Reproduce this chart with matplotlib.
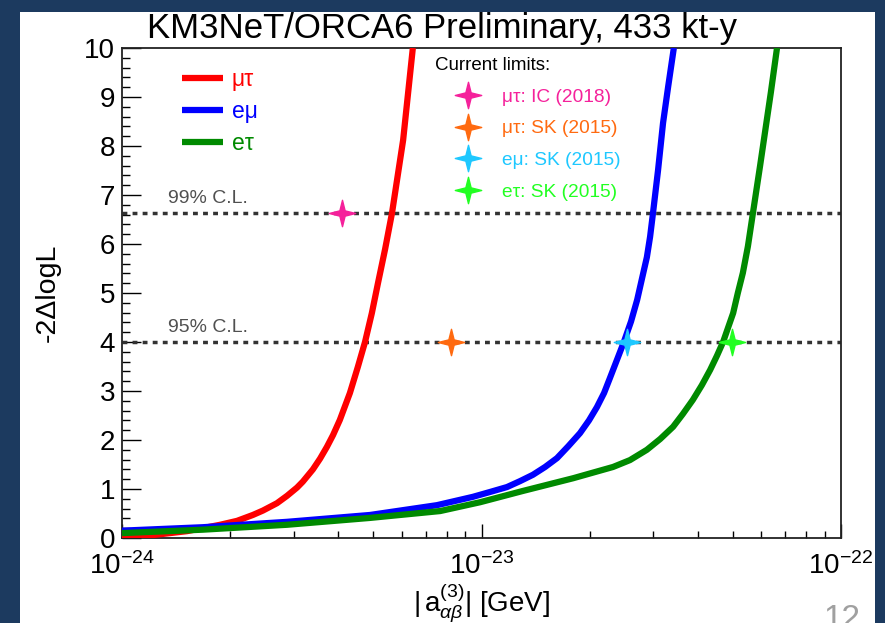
import matplotlib
matplotlib.use('Agg')
import matplotlib.pyplot as plt
from matplotlib.path import Path
from matplotlib.lines import Line2D
from matplotlib.patches import Rectangle
from matplotlib.ticker import MultipleLocator, LogLocator, NullFormatter
import numpy as np

plt.rcParams.update({
    'font.family': ['Liberation Sans', 'DejaVu Sans'],
    'mathtext.fontset': 'custom',
    'mathtext.rm': 'Liberation Sans',
    'mathtext.it': 'Liberation Sans:italic',
    'mathtext.bf': 'Liberation Sans:bold',
})

# --- data (log10 of |a| in GeV, -2 dlogL) ---
mutau_logx = [-24.000, -23.914, -23.819, -23.727, -23.680, -23.636, -23.608,
              -23.569, -23.541, -23.513, -23.497, -23.469, -23.449, -23.430,
              -23.413, -23.394, -23.366, -23.344, -23.324, -23.305, -23.288,
              -23.268, -23.249, -23.218, -23.191]
mutau_y = [0.0, 0.06, 0.14, 0.27, 0.35, 0.47, 0.56, 0.71, 0.86, 1.03, 1.15,
           1.40, 1.62, 1.86, 2.10, 2.41, 2.96, 3.49, 4.00, 4.59, 5.20, 5.90,
           6.63, 8.12, 10.0]

emu_logx = [-24.000, -23.775, -23.541, -23.310, -23.124, -23.024, -22.976,
            -22.929, -22.893, -22.857, -22.823, -22.790, -22.759, -22.726,
            -22.701, -22.679, -22.659, -22.643, -22.624, -22.604, -22.584,
            -22.567, -22.554, -22.540, -22.531, -22.523, -22.509, -22.495,
            -22.481, -22.465]
emu_y = [0.15, 0.22, 0.33, 0.47, 0.67, 0.84, 0.94, 1.04, 1.16, 1.29, 1.45,
         1.63, 1.87, 2.14, 2.40, 2.67, 2.96, 3.26, 3.62, 4.00, 4.42, 4.86,
         5.28, 5.73, 6.15, 6.63, 7.50, 8.47, 9.20, 10.0]

etau_logx = [-24.000, -23.775, -23.541, -23.310, -23.115, -23.004, -22.885,
             -22.745, -22.634, -22.587, -22.540, -22.503, -22.467, -22.440,
             -22.412, -22.387, -22.364, -22.345, -22.328, -22.300, -22.287,
             -22.273, -22.259, -22.245, -22.225, -22.211, -22.195, -22.178]
etau_y = [0.10, 0.17, 0.27, 0.41, 0.55, 0.73, 0.96, 1.22, 1.45, 1.59, 1.80,
          2.02, 2.27, 2.53, 2.82, 3.12, 3.43, 3.72, 4.00, 4.59, 5.00, 5.41,
          5.95, 6.63, 7.60, 8.30, 9.10, 10.0]

curve_labels = ['\u03bc\u03c4', 'e\u03bc', 'e\u03c4']
curve_colors = ['#ff0000', '#0000ff', '#008a00']

limit_labels = ['\u03bc\u03c4: IC (2018)', '\u03bc\u03c4: SK (2015)',
                'e\u03bc: SK (2015)', 'e\u03c4: SK (2015)']
limit_x = [4.1e-24, 8.2e-24, 2.54e-23, 4.97e-23]
limit_y = [6.63, 4.0, 4.0, 4.0]
limit_colors = ['#f5219b', '#ff6a10', '#1ec8ff', '#22ff22']

cl_levels = [6.63, 4.0]
cl_labels = ['99% C.L.', '95% C.L.']

# 4-pointed star marker
a = 0.2
star = Path([(0, 1), (a, a), (1, 0), (a, -a), (0, -1), (-a, -a), (-1, 0),
             (-a, a), (0, 1)], closed=True)

W, H = 885, 623
fig = plt.figure(figsize=(W / 100, H / 100), dpi=100)
fig.patch.set_facecolor('#1c3a5f')
fig.patches.append(Rectangle((20 / W, 0), 855 / W, 1 - 12 / H,
                             transform=fig.transFigure, facecolor='white',
                             edgecolor='none', zorder=-10))

ax = fig.add_axes([122 / W, 1 - 538 / H, 719 / W, 490 / H])
ax.set_zorder(1)

for lx, y, lbl, c in zip([mutau_logx, emu_logx, etau_logx],
                         [mutau_y, emu_y, etau_y], curve_labels, curve_colors):
    ax.plot(10 ** np.array(lx), y, color=c, lw=4.5, label=lbl,
            solid_joinstyle='round', solid_capstyle='butt', zorder=3)

for lev, txt in zip(cl_levels, cl_labels):
    ax.axhline(lev, color='#333333', lw=2.5, ls=(0, (1.4, 1.5)), zorder=2)
    ax.text(1.34e-24, lev + 0.29, txt, fontsize=14, color='#505050',
            va='center', ha='left')

for x, y, c in zip(limit_x, limit_y, limit_colors):
    ax.plot(x, y, marker=star, ms=19, color=c, ls='none', zorder=4)

ax.set_xscale('log')
ax.set_xlim(1e-24, 1e-22)
ax.set_ylim(0, 10)

ax.yaxis.set_major_locator(MultipleLocator(1))
ax.yaxis.set_minor_locator(MultipleLocator(0.2))
ax.xaxis.set_major_locator(LogLocator(base=10))
ax.xaxis.set_minor_locator(LogLocator(base=10, subs=np.arange(2, 10)))
ax.xaxis.set_minor_formatter(NullFormatter())

ax.tick_params(axis='both', which='both', direction='in', top=False,
               right=False, labelsize=20)
ax.tick_params(axis='y', which='major', length=14, width=1, pad=5)
ax.tick_params(axis='y', which='minor', length=6, width=1)
ax.tick_params(axis='x', which='major', length=10, width=1, pad=10)
ax.tick_params(axis='x', which='minor', length=5, width=1)
for s in ax.spines.values():
    s.set_linewidth(1.3)
    s.set_color('#222222')

ax.set_ylabel('-2\u0394logL', fontsize=20.5, labelpad=17)
ax.set_xlabel(r'$|\,\mathrm{a}^{(3)}_{\alpha\beta}|$ [GeV]', fontsize=20,
              labelpad=1)
fig.text(442 / W, 1 - 38 / H, 'KM3NeT/ORCA6 Preliminary, 433 kt-y',
         fontsize=25, ha='center', va='baseline')

leg1 = ax.legend(loc='upper left', bbox_to_anchor=(0.0834, 0.959),
                 frameon=False, fontsize=16.5, handlelength=1.79,
                 handletextpad=0.39, labelspacing=0.4, borderpad=0,
                 borderaxespad=0, labelcolor='linecolor')

handles = [Line2D([], [], marker=star, ms=19, color=c, ls='none')
           for c in limit_colors]
leg2 = ax.legend(handles, limit_labels, loc='upper left',
                 bbox_to_anchor=(0.4353, 0.982), frameon=False,
                 fontsize=13.8, title='Current limits:', title_fontsize=13.5,
                 alignment='left', handlelength=3.4, handletextpad=0.1,
                 labelspacing=0.75, borderpad=0, borderaxespad=0,
                 labelcolor=limit_colors)
leg2._legend_handle_box.sep = 10
ax.add_artist(leg1)

fig.text(860 / W, 1 - 604 / H, '12', fontsize=24, color='#a0a0a0',
         ha='right', va='top')

fig.savefig('out.png', dpi=100)
